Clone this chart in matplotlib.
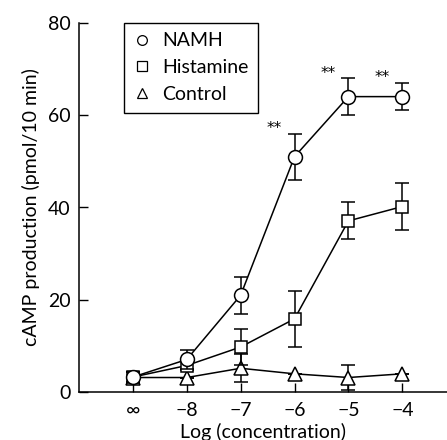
import matplotlib
matplotlib.use("Agg")
import matplotlib.pyplot as plt
from matplotlib.lines import Line2D

plt.rcParams['font.family'] = ['Lato', 'DejaVu Sans']

x_labels = ["\u221e", "\u22128", "\u22127", "\u22126", "\u22125", "\u22124"]
x_pos = list(range(len(x_labels)))

namh = [3.3, 7.1, 21.0, 51.0, 64.0, 64.0]
namh_err = [1.0, 2.0, 4.0, 5.0, 4.0, 3.0]
histamine = [3.3, 5.8, 9.8, 15.9, 37.1, 40.2]
histamine_err = [1.0, 1.0, 3.9, 6.0, 4.0, 5.0]
control = [3.2, 3.2, 5.2, 4.0, 3.2, 4.0]
control_err = [1.3, 0.0, 3.0, 0.0, 2.8, 0.0]

# significance markers
star_x = [3, 4, 5]
star_y = [57.0, 69.0, 68.2]

fig = plt.figure(figsize=(4.47, 4.40), dpi=100)
ax = fig.add_axes([79/447, (440-392.3)/440, 1 - 79/447, (392.3-22.7)/440])

common = dict(color='black', lw=1.1, elinewidth=1.1, capsize=5, capthick=1.1,
              markerfacecolor='white', markeredgecolor='black', markeredgewidth=1.1)

ax.errorbar(x_pos, control, yerr=control_err, marker='^', ms=10, zorder=3, **common)
ax.errorbar(x_pos, histamine, yerr=histamine_err, marker='s', ms=9, zorder=4, **common)
ax.errorbar(x_pos, namh, yerr=namh_err, marker='o', ms=10, zorder=5, **common)

for xi, yi in zip(star_x, star_y):
    ax.text(xi - 0.37, yi, "**", ha='center', va='center', fontsize=11,
            family='DejaVu Sans')

ax.set_xlim(-1.0, 5.83)
ax.set_ylim(0, 80)
ax.set_xticks(x_pos)
ax.set_xticklabels(x_labels)
ax.set_yticks([0, 20, 40, 60, 80])
ax.tick_params(direction='in', length=6.7, width=1, labelsize=14, pad=6)
ax.tick_params(axis='x', pad=7)
ax.spines['top'].set_visible(False)
ax.spines['right'].set_visible(False)
for s in ax.spines.values():
    s.set_linewidth(1.1)

ax.set_xlabel("Log (concentration)", fontsize=14, labelpad=3)
ax.set_ylabel("cAMP production (pmol/10 min)", fontsize=14, labelpad=6)

mk = dict(color='none', markerfacecolor='white', markeredgecolor='black',
          markeredgewidth=0.9, linestyle='none')
handles = [Line2D([], [], marker='o', ms=7, **mk),
           Line2D([], [], marker='s', ms=6.5, **mk),
           Line2D([], [], marker='^', ms=7.5, **mk)]
labels = ["NAMH", "Histamine", "Control"]
leg = ax.legend(handles, labels,
                loc='upper left', bbox_to_anchor=(0.122, 1.0), fontsize=14,
                frameon=True, fancybox=False, edgecolor='black', framealpha=1,
                handlelength=0.9, handletextpad=0.55, borderpad=0.5,
                labelspacing=0.5, borderaxespad=0)
leg.get_frame().set_linewidth(1.0)

fig.savefig("out.png", dpi=100)
